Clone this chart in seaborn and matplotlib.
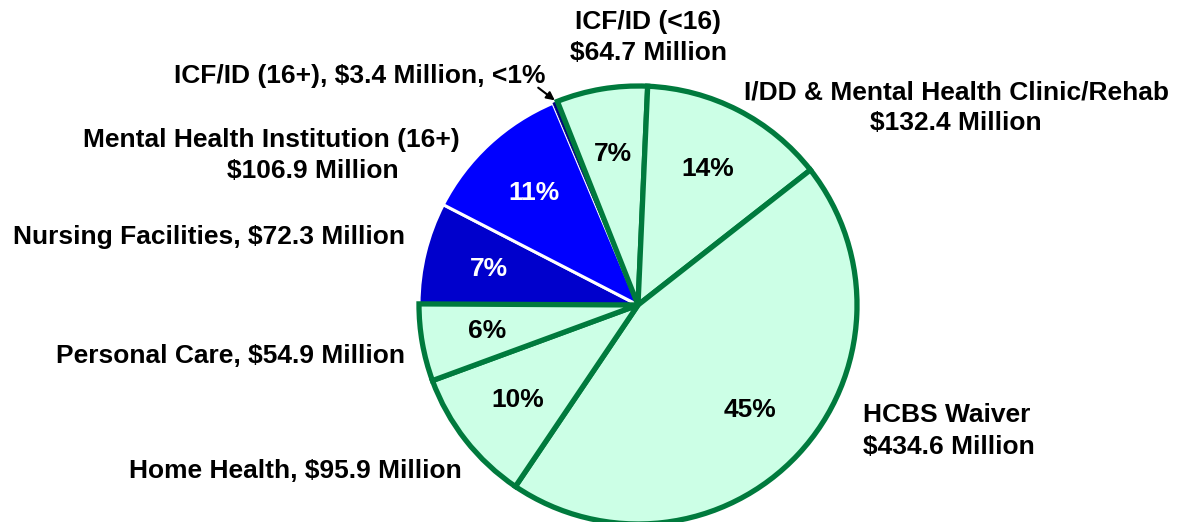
import matplotlib
matplotlib.use('Agg')
import matplotlib.pyplot as plt
import seaborn as sns

categories = ['ICF/ID (<16)', 'I/DD & Mental Health Clinic/Rehab', 'HCBS Waiver',
              'Home Health', 'Personal Care', 'Nursing Facilities',
              'Mental Health Institution (16+)', 'ICF/ID (16+)']
spend = [64.7, 132.4, 434.6, 95.9, 54.9, 72.3, 106.9, 3.4]  # $ millions
colors = ['#CCFFE6', '#CCFFE6', '#CCFFE6', '#CCFFE6', '#CCFFE6',
          '#0000CC', '#0000FF', '#000080']
edge_colors = ['#007A3D'] * 5 + ['white', 'white', '#000080']
pct_colors = ['black'] * 5 + ['white', 'white', 'white']

sns.set_style('white')
plt.rcParams['font.family'] = ['Liberation Sans', 'DejaVu Sans']
plt.rcParams['font.weight'] = 'bold'

W, H = 1178, 522
fig = plt.figure(figsize=(W / 100, H / 100), dpi=100)
ax = fig.add_axes([0, 0, 1, 1])

cx, cy, r = 638, H - 305, 219
fs = 19


def pct_fmt(p):
    return '' if p < 1 else f'{p:.0f}%'


wedges, texts, autotexts = ax.pie(
    spend, colors=colors, center=(cx, cy), radius=r, startangle=111.6,
    counterclock=False, autopct=pct_fmt, pctdistance=0.7, frame=True,
    textprops=dict(fontsize=fs, fontweight='bold'))
ax.set_xlim(0, W)
ax.set_ylim(0, H)
ax.set_aspect('equal')
ax.axis('off')

for i, w in enumerate(wedges):
    w.set_edgecolor(edge_colors[i])
    if edge_colors[i] == '#007A3D':
        w.set_linewidth(3.8)
        w.set_zorder(3)
    elif i == 7:
        w.set_linewidth(0.5)
        w.set_zorder(2)
    else:
        w.set_linewidth(2.2)
        w.set_zorder(2)
    autotexts[i].set_color(pct_colors[i])
    autotexts[i].set_zorder(5)

kw = dict(fontsize=fs, fontweight='bold', color='black')


def py(y):
    return H - y


ax.text(648, py(22), 'ICF/ID (<16)', ha='center', va='center', **kw)
ax.text(648, py(53), '$64.7 Million', ha='center', va='center', **kw)
ax.text(956, py(92), 'I/DD & Mental Health Clinic/Rehab', ha='center', va='center', **kw)
ax.text(956, py(123), '$132.4 Million', ha='center', va='center', **kw)
ax.text(863, py(415), 'HCBS Waiver', ha='left', va='center', **kw)
ax.text(863, py(447), '$434.6 Million', ha='left', va='center', **kw)
ax.text(462, py(471), 'Home Health, $95.9 Million', ha='right', va='center', **kw)
ax.text(405, py(356), 'Personal Care, $54.9 Million', ha='right', va='center', **kw)
ax.text(405, py(237), 'Nursing Facilities, $72.3 Million', ha='right', va='center', **kw)
ax.text(271, py(140), 'Mental Health Institution (16+)', ha='center', va='center', **kw)
ax.text(313, py(171), '$106.9 Million', ha='center', va='center', **kw)
ax.text(545, py(76), 'ICF/ID (16+), $3.4 Million, <1%', ha='right', va='center', **kw)
ax.annotate('', xy=(557, py(102)), xytext=(536, py(86)),
            arrowprops=dict(arrowstyle='-|>', color='black', lw=1.5, mutation_scale=12))

fig.savefig('out.png', dpi=100)
